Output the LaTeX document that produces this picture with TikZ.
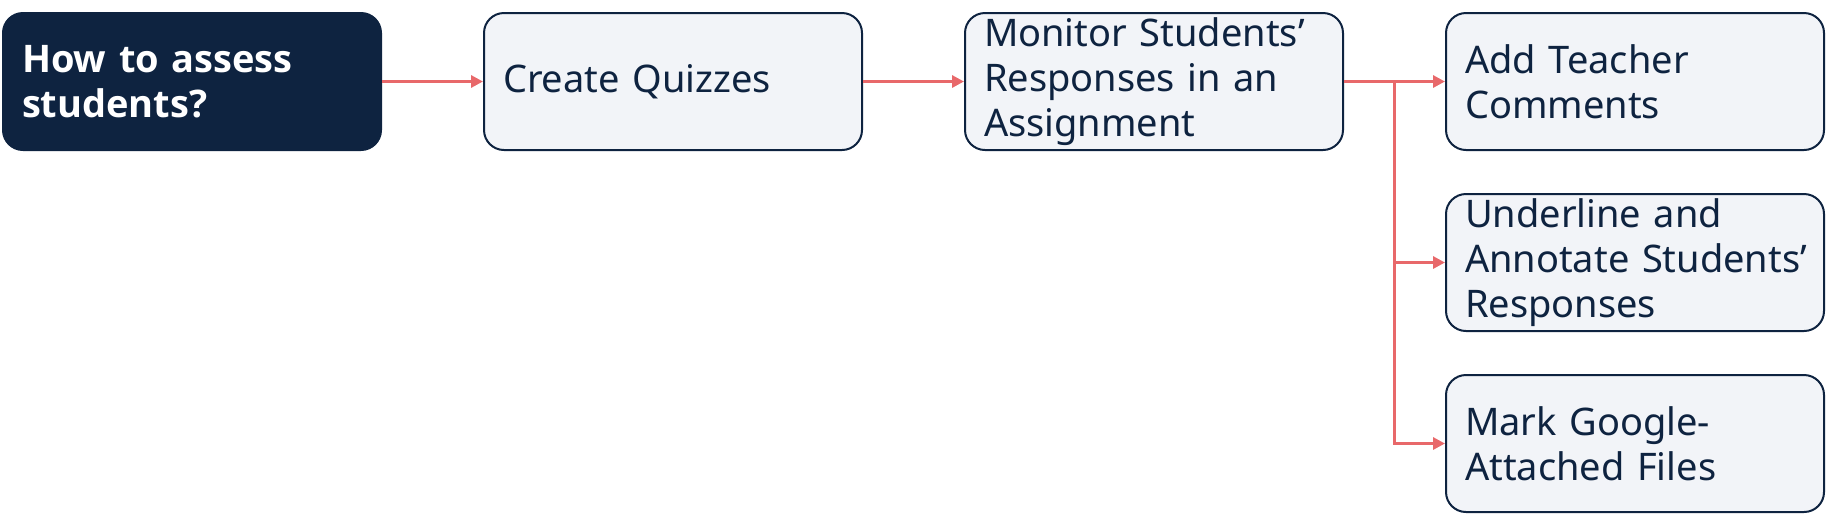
\documentclass[tikz,border=0pt]{standalone}
\usepackage{fontspec}
\setmainfont{Noto Sans}
\newfontfamily\titlefont{Open Sans}
\usetikzlibrary{positioning,arrows.meta,calc}

\definecolor{navy}{HTML}{0E2340}
\definecolor{pale}{HTML}{F2F4F8}
\definecolor{link}{HTML}{E8686A}

\tikzset{
	box/.style={draw=navy, line width=1pt, fill=pale, rounded corners=10pt,
		minimum width=189pt, minimum height=68.5pt, text width=170pt,
		inner xsep=9.5pt, inner ysep=0pt, align=left, text=navy,
		font=\fontsize{19pt}{22.5pt}\selectfont},
	rootbox/.style={box, draw=navy, fill=navy, text=white,
		font=\titlefont\fontsize{19pt}{22.5pt}\selectfont\bfseries},
	arr/.style={draw=link, line width=1.5pt, -{Triangle[length=6pt,width=6pt]}}
}

\begin{document}
\begin{tikzpicture}[node distance=21pt and 50.5pt]
		\useasboundingbox (0,0) rectangle (917.5pt,-258pt);
		
		\node[rootbox] (root) at (96pt,-40.75pt) {How to assess\\students?};
		\node[box, right=of root] (quiz) {Create Quizzes};
		\node[box, right=of quiz] (mon) {Monitor Students’\\Responses in an\\Assignment};
		\node[box, right=of mon] (tea) {Add Teacher\\Comments};
		\node[box, below=of tea] (und) {Underline and\\\mbox{Annotate Students’}\\Responses};
		\node[box, below=of und] (mark) {Mark Google-\\Attached Files};
		
		\draw[arr] (root) -- (quiz);
		\draw[arr] (quiz) -- (mon);
		\draw[arr] (mon) -- (tea);
		\coordinate (br) at ($(mon.east)!0.5!(tea.west)$);
		\draw[arr] (br) |- (und);
		\draw[arr] (br) |- (mark);
	\end{tikzpicture}
\end{document}
